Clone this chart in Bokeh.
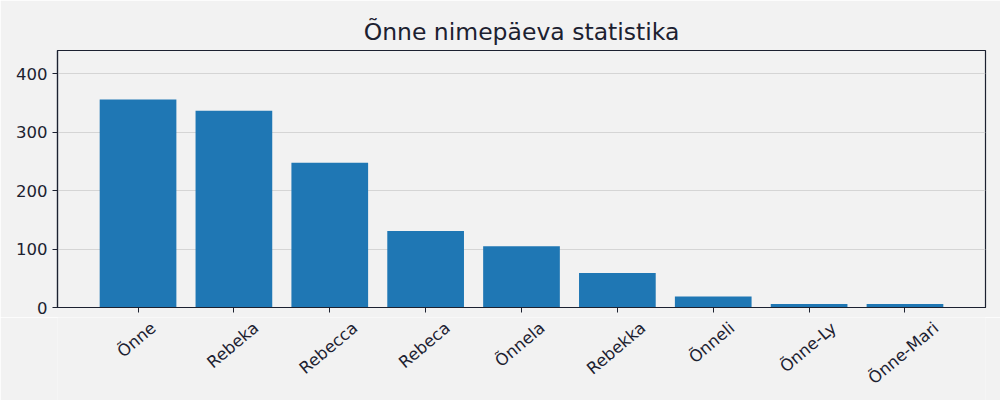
from math import cos, radians
from bokeh.plotting import figure
from bokeh.layouts import column
from bokeh.models import FixedTicker, Range1d
from bokeh.core.properties import value
from bokeh.embed import file_html
from bokeh.resources import INLINE


#chart data
names = ["Õnne", "Rebeka", "Rebecca", "Rebeca", "Õnnela", "Rebekka", "Õnneli", "Õnne-Ly", "Õnne-Mari"]
counts = [356, 337, 248, 131, 105, 59, 19, 6, 6]
y_ticks = [0, 100, 200, 300, 400]


#style
text_color = "#1c2130"
bg = "#f2f2f2"
font = "DejaVu Sans"
label_px = 16.5
angle = radians(40)

#rough DejaVu Sans advance widths (em), used to centre the rotated labels like matplotlib does
em = {"Õ": 0.787, "n": 0.634, "e": 0.615, "R": 0.695, "b": 0.635, "k": 0.579, "a": 0.613,
      "c": 0.550, "l": 0.278, "i": 0.278, "-": 0.361, "L": 0.557, "y": 0.592, "M": 0.863, "r": 0.411}
line_h = 1.164 * label_px


#main chart (x labels go in the strip below)
p = figure(width=1000, height=317, output_backend="svg", toolbar_location=None,
           x_range=Range1d(-0.84, 8.84), y_range=Range1d(0, 440),
           background_fill_color=bg, border_fill_color=bg,
           outline_line_color=text_color, outline_line_width=1.2,
           min_border_left=57, min_border_right=15, min_border_top=50, min_border_bottom=10)

p.title.text = "Õnne nimepäeva statistika"
p.title.text_font = font
p.title.text_font_size = "23.5px"
p.title.text_font_style = "normal"
p.title.text_color = text_color
p.title.align = "center"

xs = list(range(len(names)))
p.vbar(x=xs, top=counts, width=0.8, bottom=0, color="#1f77b4", line_color=None)

p.xaxis.ticker = FixedTicker(ticks=xs)
p.xaxis.major_label_text_color = None
p.xaxis.major_label_standoff = 0
p.yaxis.ticker = FixedTicker(ticks=y_ticks)
p.yaxis.major_label_text_font = font
p.yaxis.major_label_text_font_size = str(label_px) + "px"
p.yaxis.major_label_text_color = text_color
p.yaxis.major_label_standoff = 5
for ax in [p.xaxis, p.yaxis]:
    ax.axis_line_color = text_color
    ax.axis_line_width = 1.2
    ax.major_tick_line_color = text_color
    ax.major_tick_in = 0
    ax.major_tick_out = 5
    ax.minor_tick_line_color = None
p.xgrid.visible = False
p.ygrid.ticker = FixedTicker(ticks=y_ticks)
p.ygrid.grid_line_color = "#d5d5d5"


#strip under the chart with the rotated category labels (y in pixels below the strip top)
lab = figure(width=1000, height=83, output_backend="svg", toolbar_location=None,
             x_range=p.x_range, y_range=Range1d(-83, 0),
             x_axis_location=None, y_axis_location=None,
             background_fill_color=bg, border_fill_color=bg, outline_line_color=None,
             min_border_left=57, min_border_right=15, min_border_top=0, min_border_bottom=0)
lab.grid.visible = False
widths = [sum(em.get(ch, 0.6) for ch in n) * label_px for n in names]
lab.text(x=xs, y=[-(line_h * cos(angle) / 2 + 0.8)] * len(xs), text=names,
         x_offset=[w / 2 * cos(angle) - 1.5 for w in widths], angle=angle,
         text_align="right", text_baseline="middle", text_font=value(font),
         text_font_size=str(label_px) + "px", text_color=text_color)

open("out.html", "w").write(file_html(column(p, lab, spacing=0), INLINE))
